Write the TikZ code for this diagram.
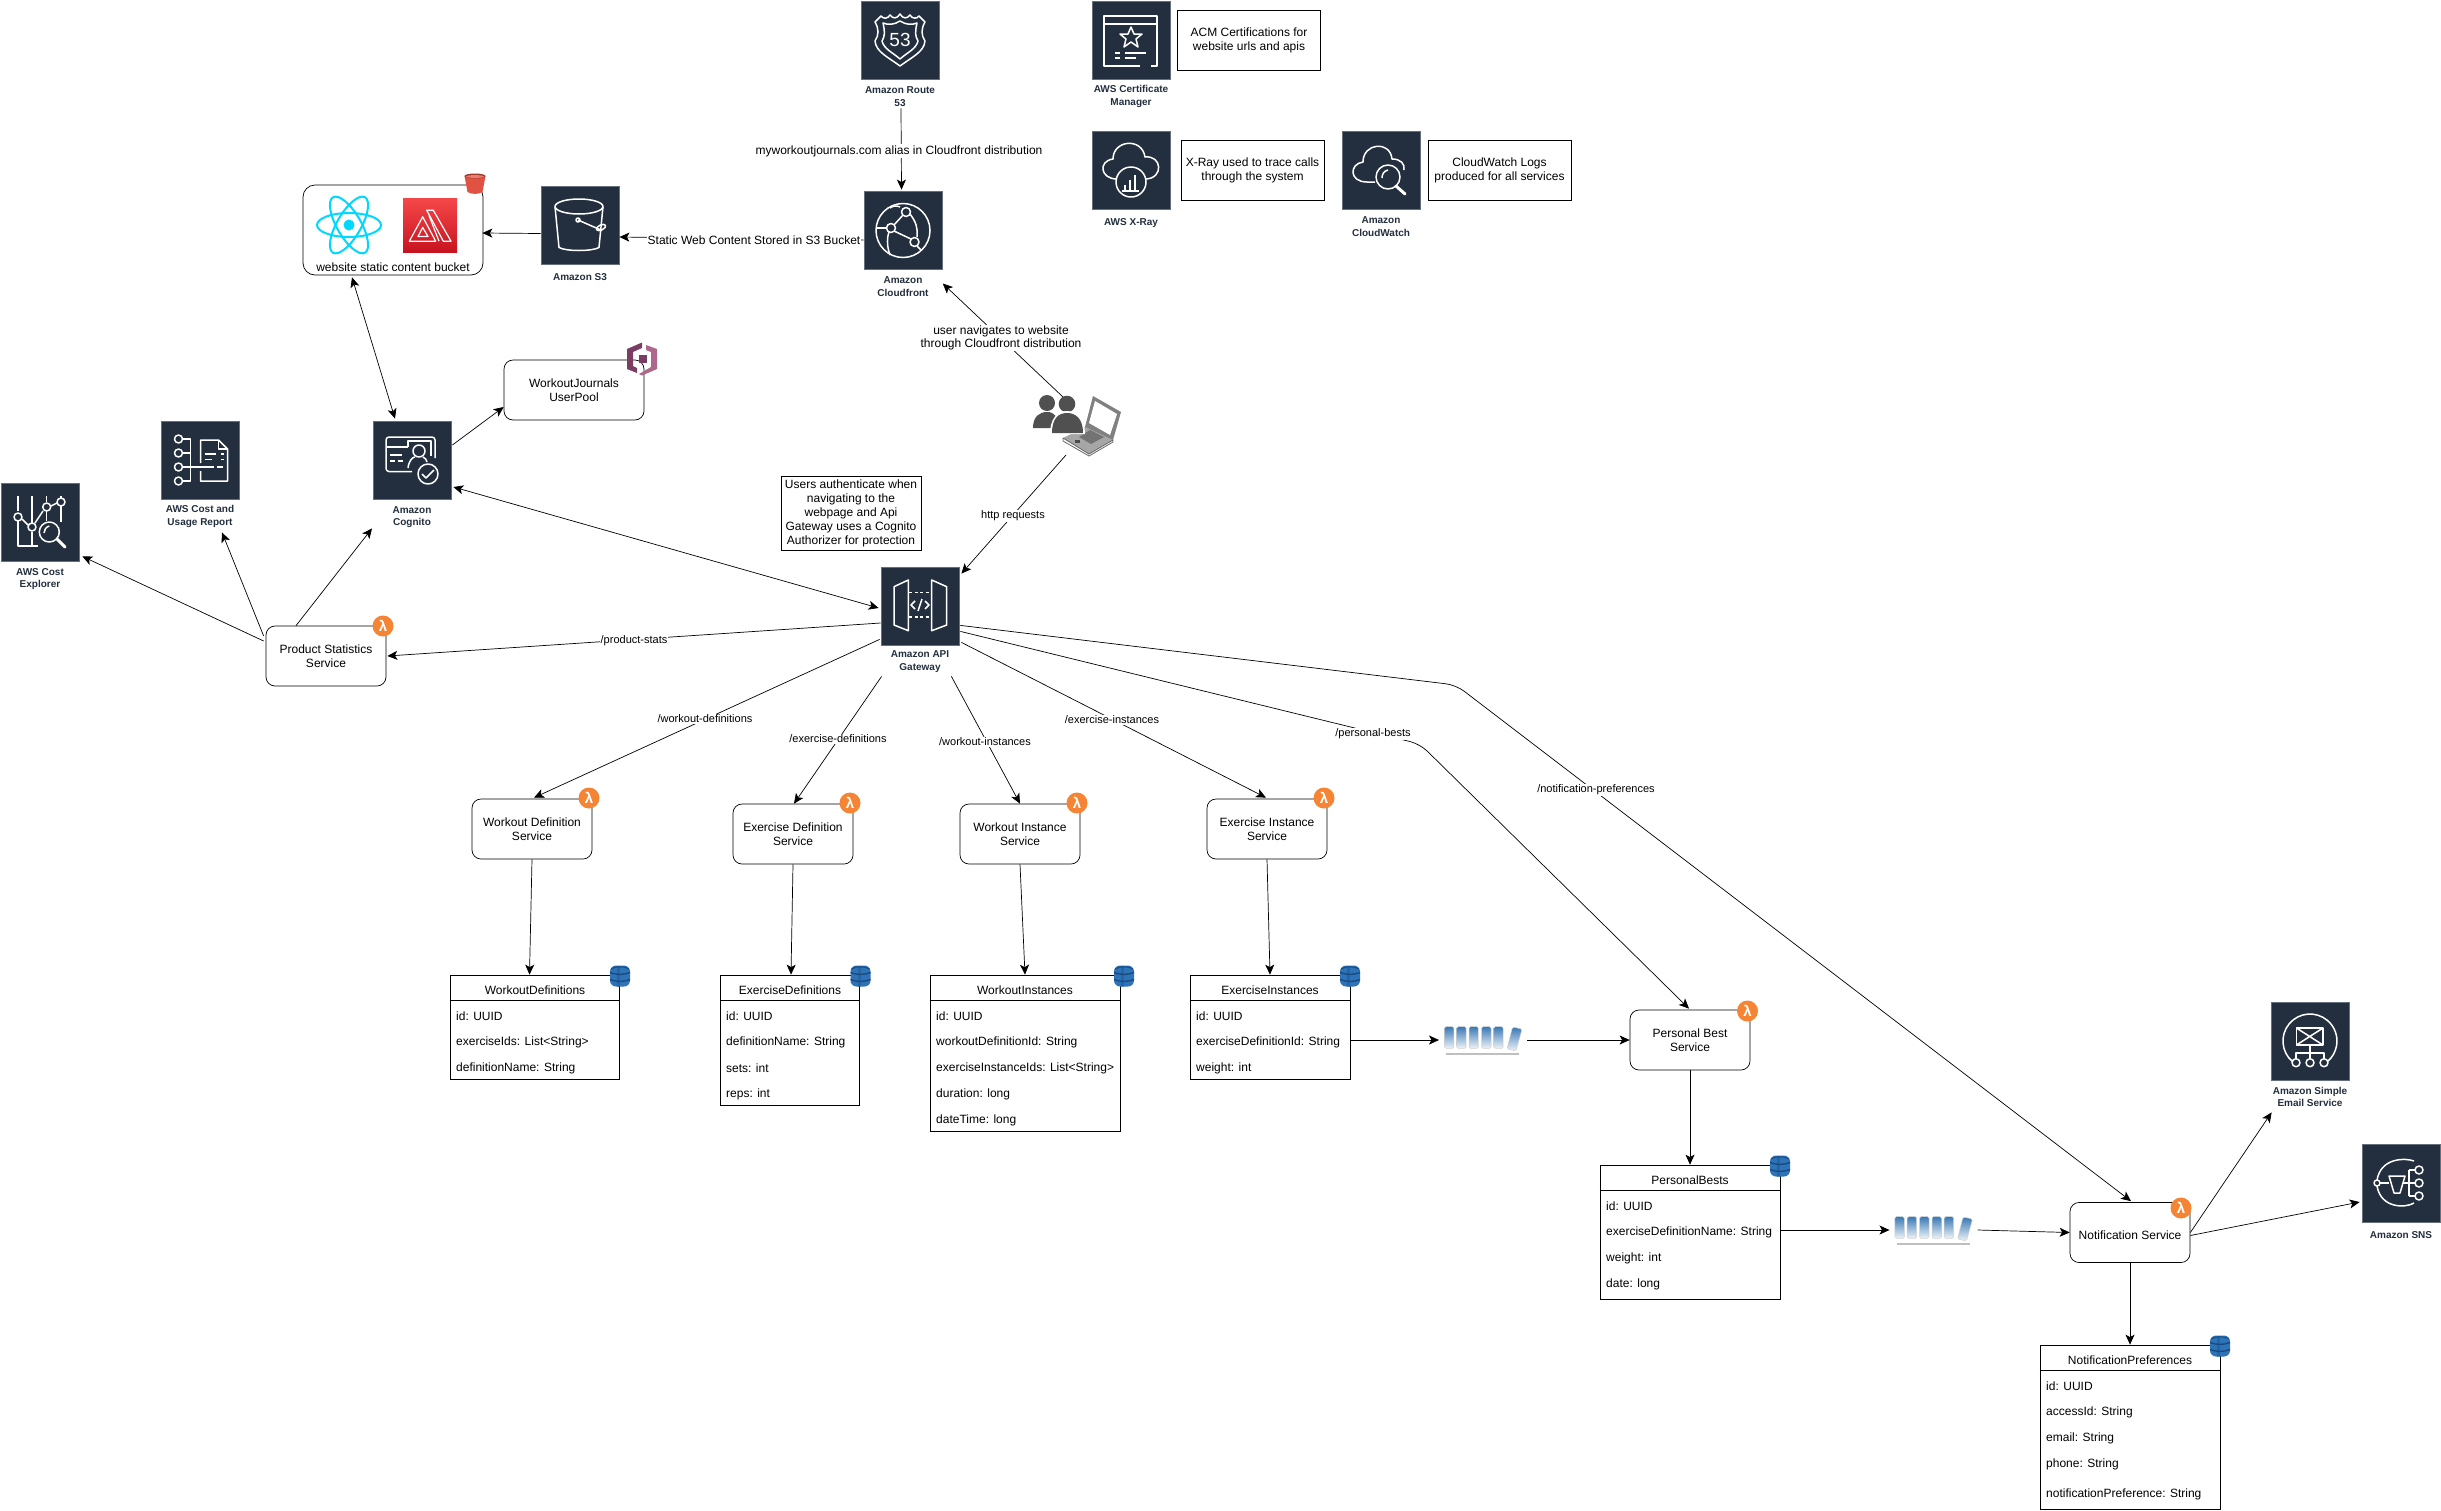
\documentclass[tikz,border=0pt]{standalone}
\usepackage{fontspec}
\setmainfont{Liberation Sans}
\usetikzlibrary{arrows.meta}

\definecolor{awsNavy}{HTML}{232F3E}
\definecolor{iconEdge}{HTML}{66707C}
\definecolor{lambdaOrange}{HTML}{F58534}
\definecolor{dynamoBlue}{HTML}{2E73B8}
\definecolor{dynamoDark}{HTML}{1A4A80}
\definecolor{bucketRed}{HTML}{E05243}
\definecolor{reactCyan}{HTML}{00D8FF}
\definecolor{amplifyTop}{HTML}{F54749}
\definecolor{amplifyBottom}{HTML}{C7131F}
\definecolor{poolDark}{HTML}{7A3E65}
\definecolor{poolLight}{HTML}{AD688B}
\definecolor{queueBlue}{HTML}{3A78B5}
\definecolor{queuePale}{HTML}{EEF3F8}
\definecolor{userGray}{HTML}{505050}

\tikzset{
	awsicon/.style={draw=iconEdge, fill=awsNavy, line width=0.8pt, minimum size=78pt, inner sep=0pt},
	iconlabel/.style={align=center, text=awsNavy, inner sep=1pt, yshift=-1pt, font=\bfseries\fontsize{10}{12.5}\selectfont},
	glyph/.style={draw=white, line width=1.5pt, line join=round},
	svcbox/.style={draw, fill=white, line width=0.7pt, rounded corners=9pt, align=center, inner sep=0pt, minimum width=120pt, minimum height=60pt, font=\fontsize{12}{14}\selectfont, execute at begin node={\rule{0pt}{14.3pt}}},
	notebox/.style={draw, fill=white, line width=0.7pt, align=center, inner sep=0pt, minimum width=143pt, minimum height=60pt, font=\fontsize{12}{14}\selectfont, execute at begin node={\rule{0pt}{14.3pt}}},
	tablebox/.style={draw, fill=white, line width=0.7pt, inner sep=0pt},
	tabletitle/.style={inner sep=0pt, yshift=-1pt, font=\fontsize{12}{14}\selectfont},
	rowtext/.style={anchor=west, inner sep=0pt, yshift=-1pt, font=\fontsize{12}{14}\selectfont},
	edgelabel/.style={fill=white, align=center, inner sep=1pt, yshift=-1pt, font=\fontsize{11}{13.5}\selectfont},
	longlabel/.style={edgelabel, font=\fontsize{12}{13.5}\selectfont},
	lambdabadge/.style={circle, fill=lambdaOrange, text=white, inner sep=0pt, minimum size=21pt, font=\bfseries\fontsize{15}{15}\selectfont},
	hidden/.style={inner sep=0pt, outer sep=0pt},
	conn/.style={line width=0.7pt, -{Stealth[length=10pt,width=9pt,inset=2.5pt]}},
	biconn/.style={line width=0.7pt, {Stealth[length=10pt,width=9pt,inset=2.5pt]}-{Stealth[length=10pt,width=9pt,inset=2.5pt]}},
	route53glyph/.pic={
		\draw[glyph] (0,-26) .. controls (-3,-21) and (-7,-21) .. (-10,-25) .. controls (-12,-21) and (-17,-21) .. (-19,-24) -- (-25,-18) .. controls (-21,-11) and (-21,-5) .. (-25,1) .. controls (-24,12) and (-12,17) .. (0,26) .. controls (12,17) and (24,12) .. (25,1) .. controls (21,-5) and (21,-11) .. (25,-18) -- (19,-24) .. controls (17,-21) and (12,-21) .. (10,-25) .. controls (7,-21) and (3,-21) .. (0,-26) -- cycle;
		\draw[glyph] (0,-19) .. controls (-6,-15) and (-12,-15) .. (-17,-17) .. controls (-15,-8) and (-15,-4) .. (-18,1) .. controls (-16,9) and (-8,12) .. (0,19) .. controls (8,12) and (16,9) .. (18,1) .. controls (15,-4) and (15,-8) .. (17,-17) .. controls (12,-15) and (6,-15) .. (0,-19) -- cycle;
		\node[text=white, inner sep=0pt, font=\fontsize{19}{19}\selectfont] (r53num) at (0,0) {53};
	},
	certglyph/.pic={
		\draw[glyph] (9,26) -- (-27,26) -- (-27,-24) -- (26,-24) -- (26,26) -- (20,26);
		\draw[glyph] (-27,-16) -- (26,-16);
		\draw[glyph] (0,-13) -- (3,-6) -- (11,-6) -- (5,-1) -- (7,7) -- (0,2) -- (-7,7) -- (-5,-1) -- (-11,-6) -- (-3,-6) -- cycle;
		\draw[glyph] (-16,13) -- (-11,13) (-6,13) -- (15,13) (-16,18) -- (-11,18) (-6,18) -- (5,18);
	},
	xrayglyph/.pic={
		\draw[glyph] (-14,9) .. controls (-31,9) and (-33,-9) .. (-18,-11) .. controls (-18,-30) and (11,-33) .. (14,-13) .. controls (31,-15) and (33,8) .. (15,9);
		\draw[glyph] (0,12) circle (15);
		\draw[glyph] (-6,20) -- (-6,15) (-1,20) -- (-1,10) (4,20) -- (4,5);
		\draw[glyph] (-9,21) -- (8,21);
	},
	watchglyph/.pic={
		\draw[glyph] (-6,12) -- (-14,12) .. controls (-32,12) and (-32,-6) .. (-18,-8) .. controls (-18,-27) and (9,-30) .. (11,-11) .. controls (20,-11) and (24,-6) .. (23,0);
		\draw[glyph] (7,7) circle (12);
		\draw[glyph] (7,0) .. controls (3,1) and (1,4) .. (1,8);
		\draw[white, line width=3pt, line cap=round] (15,16) -- (24,24);
	},
	bucketglyph/.pic={
		\draw[glyph] (-1,-19) ellipse (24 and 7.5);
		\draw[glyph] (-25,-19) -- (-21,22) .. controls (-14,26) and (12,26) .. (19,22) -- (23,-19);
		\draw[glyph] (-2,-5.5) circle (2);
		\draw[glyph] (-2,-5.5) -- (22,5);
		\draw[glyph, rotate around={25:(21,2)}] (21,2) ellipse (5 and 2.5);
	},
	frontglyph/.pic={
		\draw[glyph] (0,0.5) circle (27);
		\draw[glyph, fill=awsNavy] (3,-18) circle (4.5);
		\draw[glyph, fill=awsNavy] (-12,-2) circle (4.5);
		\draw[glyph, fill=awsNavy] (11.5,12) circle (4.5);
		\draw[glyph] (0,-15) -- (-9,-5) (-9,1) -- (8,9);
		\draw[glyph] (-26,-2) -- (-16,-2);
		\draw[glyph] (-14,2) .. controls (-17,10) and (-15,20) .. (-13,25);
		\draw[glyph] (-3,-23) .. controls (-7,-25) and (-10,-24) .. (-13,-22);
		\draw[glyph] (7,-16) .. controls (13,-8) and (15,-2) .. (14,7);
		\draw[glyph] (14,16) -- (18,20);
	},
	cognitoglyph/.pic={
		\draw[glyph, rounded corners=3pt] (0,11.5) -- (-26,11.5) -- (-26,-23) -- (23,-23) -- (23,-2);
		\draw[glyph] (-26,-13) -- (-4,-13);
		\draw[glyph] (-22,-5) -- (-10,-5) (-22,1) -- (-17,1) (-14,1) -- (-9,1);
		\draw[glyph] (-4,-13) -- (-4,-19) -- (19,-19) -- (19,-4);
		\draw[glyph] (7,-9) circle (6);
		\draw[glyph] (-4,8) .. controls (-3,0) and (1,-3) .. (3,-3) (11,-3) .. controls (13,-2) and (15,0) .. (15,2);
		\draw[glyph] (16,14) circle (10);
		\draw[glyph] (10,14) -- (14,18) -- (22,10);
	},
	explorerglyph/.pic={
		\draw[glyph] (-22,-26) -- (-22,-11) (-22,-1) -- (-22,24) -- (-2,24);
		\draw[glyph] (-8,-26) -- (-8,1) (-8,10) -- (-8,24);
		\draw[glyph] (6.7,-26) -- (6.7,-20) (6.7,-11) -- (6.7,-1);
		\draw[glyph] (21,-26) -- (21,-24) (21,-16) -- (21,0);
		\draw[glyph] (-22,-5) circle (4) (-8,5) circle (4) (6.7,-15) circle (4) (21,-20) circle (4);
		\draw[glyph] (-18,-3) -- (-12,3) (-5,1) -- (3,-11) (11,-16) -- (17,-19);
		\draw[glyph] (9.3,10) circle (10);
		\draw[glyph] (9.3,4) .. controls (6,5) and (4,8) .. (4,11);
		\draw[white, line width=3pt, line cap=round] (17,17) -- (25,25);
	},
	usageglyph/.pic={
		\draw[glyph] (-22,-21) circle (4) (-22,-7) circle (4) (-22,7) circle (4) (-22,21) circle (4);
		\draw[glyph] (-18,-21) -- (-10,-21) -- (-10,21) -- (-18,21);
		\draw[glyph] (-18,-7) -- (-10,-7);
		\draw[glyph] (-18,7) -- (13,7) (16,7) -- (22,7);
		\draw[glyph] (0,3) -- (0,-20) -- (18,-20) -- (27,-11) -- (27,21) -- (0,21) -- (0,11);
		\draw[glyph] (4,-6) -- (15,-6) (20,-6) -- (23,-6) (4,-0.5) -- (11,-0.5) (20,-0.5) -- (23,-0.5);
		\draw[glyph] (18,-20) -- (18,-11) -- (27,-11);
	},
	gatewayglyph/.pic={
		\draw[glyph] (-26,-19.3) -- (-11.7,-26) -- (-11.7,24.7) -- (-26,19) -- cycle;
		\draw[glyph] (11.7,-26) -- (26.7,-19.3) -- (26.7,19) -- (11.7,24.7) -- cycle;
		\draw[glyph, dash pattern=on 3pt off 2.5pt] (-11,-13.3) -- (11,-13.3) (-11,11) -- (11,11);
		\draw[glyph] (-5,-5) -- (-9,-1) -- (-5,3) (5,-5) -- (9,-1) -- (5,3) (2,-7) -- (-2,5);
	},
	emailglyph/.pic={
		\draw[glyph] (-17.4,20.7) arc[start angle=130, end angle=410, radius=27];
		\draw[glyph] (-13.6,-13) rectangle (13,4);
		\draw[glyph] (-13.6,-13) -- (13,4) (13,-13) -- (-13.6,4);
		\draw[glyph] (0,4) -- (0,17.5) (0,12) -- (-14,12) -- (-14,17.5) (0,12) -- (14,12) -- (14,17.5);
		\draw[glyph] (-14,21.7) circle (4) (0,21.7) circle (4) (14,21.7) circle (4);
	},
	snsglyph/.pic={
		\draw[glyph] (13,-22) .. controls (5,-25) and (-20,-26) .. (-24,-3);
		\draw[glyph] (-24,3) .. controls (-20,26) and (5,25) .. (13,20);
		\draw[glyph] (-24,0) circle (3);
		\draw[glyph] (-21,0) -- (-12,0);
		\draw[glyph] (-12,-7) -- (4,-7) -- (-1,10) -- (-7,10) -- cycle;
		\draw[glyph] (2,0) -- (14,0) (8,-13) -- (8,13) (8,-13) -- (14,-13) (8,13) -- (14,13);
		\draw[glyph] (18,-13) circle (4) (18,0) circle (4) (18,13) circle (4);
	},
	dynamoicon/.pic={
		\fill[dynamoBlue, rounded corners=6pt] (-10,-10.5) rectangle (10,10.5);
		\fill[dynamoDark, opacity=0.35] (0,-10.5) rectangle (-3,10.5);
		\draw[dynamoDark, line width=1.4pt] (-10,-3.5) .. controls (-4,-1) and (4,-1) .. (10,-3.5);
		\draw[dynamoDark, line width=1.4pt] (-10,3.5) .. controls (-4,6) and (4,6) .. (10,3.5);
		\draw[dynamoDark, line width=1pt] (-9,-7) .. controls (-4,-10) and (4,-10) .. (9,-7);
	},
	queuebar/.style={top color=queueBlue, bottom color=queuePale, draw=black!18, line width=0.5pt, rounded corners=1.5pt},
	queueicon/.pic={
		\shadedraw[queuebar] (-38.6,-13.3) rectangle (-29.1,8.3);
		\shadedraw[queuebar] (-26.3,-13.3) rectangle (-16.8,8.3);
		\shadedraw[queuebar] (-14,-13.3) rectangle (-4.5,8.3);
		\shadedraw[queuebar] (-1.5,-13.3) rectangle (8,8.3);
		\shadedraw[queuebar] (10.7,-13.3) rectangle (20.2,8.3);
		\shadedraw[queuebar] (29.5,-13) -- (39,-11) -- (33,11) -- (24,9) -- cycle;
		\draw[black!25, line width=2pt] (-37,14.3) -- (36,14.3);
	},
	s3badge/.pic={
		\fill[bucketRed] (-10.5,-8) -- (10.5,-8) -- (7.5,8) .. controls (4,10.5) and (-4,10.5) .. (-7.5,8) -- cycle;
		\fill[bucketRed!70!black] (0,-8) ellipse (10.5 and 2.5);
		\fill[bucketRed!75!white] (0,-7.5) ellipse (9 and 1.4);
	},
	poolbadge/.pic={
		\fill[poolDark] (-15,-10) -- (0,-16.5) -- (0,-11) -- (-9,-7) -- (-9,7) -- (-5,9) -- (-5,14) -- (-15,10) -- cycle;
		\fill[poolLight] (4,-14) -- (15,-10) -- (15,10) -- (0,16.5) -- (-3,15) -- (9,8) -- (9,-7) -- (4,-9) -- cycle;
		\fill[poolDark] (-3,-4) rectangle (5,4);
	},
	reactlogo/.pic={
		\draw[reactCyan, line width=2pt] (0,0) ellipse (32 and 12);
		\draw[reactCyan, line width=2pt, rotate=60] (0,0) ellipse (32 and 12);
		\draw[reactCyan, line width=2pt, rotate=120] (0,0) ellipse (32 and 12);
		\fill[reactCyan] (0,0) circle (5.5);
	},
	amplifyglyph/.pic={
		\draw[white, line width=1.2pt, line join=round] (-20.7,15.7) -- (-7.3,-8.7) -- (5.7,15.7) -- cycle;
		\draw[white, line width=1.2pt, line join=round] (-12,11) -- (-7.3,2) -- (-2,11) -- cycle;
		\draw[white, line width=1.2pt, line join=round] (-3.3,-15.3) -- (3.3,-15.3) -- (21,15.7) -- (13.3,15.7) -- cycle;
		\draw[white, line width=1.2pt] (-1,-10) -- (9,15.7);
	},
	usersicon/.pic={
		\fill[black!35] (-14,13) -- (12,29) -- (36,15) -- (8,2) -- cycle;
		\draw[black!60, line width=0.8pt, line join=round] (-14,13) -- (-14,16) -- (12,31) -- (36,17) -- (36,15) -- (12,29) -- cycle;
		\fill[black!55] (2,12) -- (14,19) -- (27,12) -- (13,5) -- cycle;
		\fill[black!70] (-2,15) rectangle (3,18);
		\fill[black!50] (16,-29) -- (44,-13) -- (36,15) -- (8,2) -- cycle;
		\fill[white] (18,-24) -- (40,-11) -- (33,10) -- (12,-2) -- cycle;
		\fill[userGray] (-30,-22) circle (8);
		\fill[userGray] (-44,3) .. controls (-44,-8) and (-38,-13) .. (-30,-13) .. controls (-22,-13) and (-19,-8) .. (-19,3) -- cycle;
		\fill[white] (-10,-21) circle (10);
		\fill[userGray] (-10,-21) circle (8.3);
		\fill[white] (-27,9) .. controls (-27,-6) and (-20,-14) .. (-10,-14) .. controls (0,-14) and (8,-6) .. (8,9) -- cycle;
		\fill[userGray] (-25,8) .. controls (-25,-6) and (-19,-12) .. (-10,-12) .. controls (-1,-12) and (6,-6) .. (6,8) -- cycle;
	},
}

\begin{document}
\begin{tikzpicture}[x=1pt, y=-1pt]

	\useasboundingbox (0,0) rectangle (2441,1510);

	\coordinate (bendBest) at (1420,744);
	\coordinate (bendNotify) at (1456,685);

	\node[awsicon] (route53) at (900,40) {};
	\node[awsicon] (cloudfront) at (903,230) {};
	\node[awsicon] (certman) at (1131,40) {};
	\node[awsicon] (xray) at (1131,170) {};
	\node[awsicon] (cloudwatch) at (1381,170) {};
	\node[awsicon] (s3) at (580,225.5) {};
	\node[awsicon] (cognito) at (412,460) {};
	\node[awsicon] (usage) at (200.5,460) {};
	\node[awsicon] (explorer) at (40,522) {};
	\node[awsicon] (gateway) at (920,606) {};
	\node[awsicon] (email) at (2310,1041) {};
	\node[awsicon] (sns) at (2401,1183) {};

	\path (route53) pic {route53glyph};
	\path (cloudfront) pic {frontglyph};
	\path (certman) pic {certglyph};
	\path (xray) pic {xrayglyph};
	\path (cloudwatch) pic {watchglyph};
	\path (s3) pic {bucketglyph};
	\path (cognito) pic {cognitoglyph};
	\path (usage) pic {usageglyph};
	\path (explorer) pic {explorerglyph};
	\path (gateway) pic {gatewayglyph};
	\path (email) pic {emailglyph};
	\path (sns) pic {snsglyph};

	\node[iconlabel] (route53lbl) at (900,95.5) {Amazon Route\\53};
	\node[iconlabel] (cloudfrontlbl) at (903,285.5) {Amazon\\Cloudfront};
	\node[iconlabel] (certmanlbl) at (1131,95.5) {AWS Certificate\\Manager};
	\node[iconlabel] (xraylbl) at (1131,222) {AWS X-Ray};
	\node[iconlabel] (cloudwatchlbl) at (1381,225.5) {Amazon\\CloudWatch};
	\node[iconlabel] (s3lbl) at (580,276) {Amazon S3};
	\node[iconlabel] (cognitolbl) at (412,516) {Amazon\\Cognito};
	\node[iconlabel] (usagelbl) at (200,515.5) {AWS Cost and\\Usage Report};
	\node[iconlabel] (explorerlbl) at (40,578) {AWS Cost\\Explorer};
	\node[iconlabel] (gatewaylbl) at (920,660.5) {Amazon API\\Gateway};
	\node[iconlabel] (emaillbl) at (2310,1096) {Amazon Simple\\Email Service};
	\node[iconlabel] (snslbl) at (2401,1234) {Amazon SNS};

	\node[notebox] (certnote) at (1249,40) {ACM Certifications for\\website urls and apis};
	\node[notebox] (xraynote) at (1252.5,170) {X-Ray used to trace calls\\through the system};
	\node[notebox] (watchnote) at (1499.5,170) {CloudWatch Logs\\produced for all services};
	\node[notebox, minimum width=140pt, minimum height=74pt] (authnote) at (851,513) {Users authenticate when\\navigating to the\\webpage and Api\\Gateway uses a Cognito\\Authorizer for protection};

	\node[svcbox, minimum width=180pt, minimum height=90pt, rounded corners=12pt] (webbox) at (393,230) {};
	\node[hidden, yshift=-1pt, font=\fontsize{12}{14}\selectfont] (webtext) at (393,266) {website static content bucket};
	\path (349,225) pic {reactlogo};
	\node[hidden, minimum size=54pt, top color=amplifyTop, bottom color=amplifyBottom] (amplify) at (430,225.5) {};
	\path (amplify) pic {amplifyglyph};
	\path (475,184) pic {s3badge};

	\node[svcbox, minimum width=140pt] (userpool) at (574,390) {WorkoutJournals\\UserPool};
	\path (642,359) pic {poolbadge};

	\node[hidden, minimum width=88pt, minimum height=60pt] (users) at (1077,425) {};
	\path (users) pic {usersicon};

	\node[svcbox] (prodsvc) at (326,656) {Product Statistics\\Service};
	\node[svcbox] (wdefsvc) at (532,829) {Workout Definition\\Service};
	\node[svcbox] (edefsvc) at (793,834) {Exercise Definition\\Service};
	\node[svcbox] (winstsvc) at (1020,834) {Workout Instance\\Service};
	\node[svcbox] (einstsvc) at (1267,829) {Exercise Instance\\Service};
	\node[svcbox] (bestsvc) at (1690,1040) {Personal Best\\Service};
	\node[svcbox] (notifysvc) at (2130,1232.5) {Notification Service};

	\node[lambdabadge] (lamprod) at (383,626) {λ};
	\node[lambdabadge] (lamwdef) at (589,798) {λ};
	\node[lambdabadge] (lamedef) at (850,803) {λ};
	\node[lambdabadge] (lamwinst) at (1077,803) {λ};
	\node[lambdabadge] (lameinst) at (1324,798) {λ};
	\node[lambdabadge] (lambest) at (1747.5,1011) {λ};
	\node[lambdabadge] (lamnotify) at (2181,1208) {λ};

	\node[tablebox, minimum width=169.5pt, minimum height=104pt] (wdeftable) at (535,1027) {};
	\draw[line width=0.7pt] ([shift={(0,26)}]wdeftable.north west) -- ([shift={(0,26)}]wdeftable.north east);
	\node[tabletitle] (wdeftitle) at (535,989) {WorkoutDefinitions};
	\node[rowtext] (wdefa) at (456,1015) {id: UUID};
	\node[rowtext] (wdefb) at (456,1041) {exerciseIds: List<String>};
	\node[rowtext] (wdefc) at (456,1067) {definitionName: String};
	\path (620,976) pic {dynamoicon};

	\node[tablebox, minimum width=139.5pt, minimum height=130pt] (edeftable) at (790,1040) {};
	\draw[line width=0.7pt] ([shift={(0,26)}]edeftable.north west) -- ([shift={(0,26)}]edeftable.north east);
	\node[tabletitle] (edeftitle) at (790,989) {ExerciseDefinitions};
	\node[rowtext] (edefa) at (726,1015) {id: UUID};
	\node[rowtext] (edefb) at (726,1041) {definitionName: String};
	\node[rowtext] (edefc) at (726,1067) {sets: int};
	\node[rowtext] (edefd) at (726,1093) {reps: int};
	\path (860.5,976) pic {dynamoicon};

	\node[tablebox, minimum width=190pt, minimum height=156pt] (winsttable) at (1025,1053) {};
	\draw[line width=0.7pt] ([shift={(0,26)}]winsttable.north west) -- ([shift={(0,26)}]winsttable.north east);
	\node[tabletitle] (winsttitle) at (1025,989) {WorkoutInstances};
	\node[rowtext] (winsta) at (936,1015) {id: UUID};
	\node[rowtext] (winstb) at (936,1041) {workoutDefinitionId: String};
	\node[rowtext] (winstc) at (936,1067) {exerciseInstanceIds: List<String>};
	\node[rowtext] (winstd) at (936,1093) {duration: long};
	\node[rowtext] (winste) at (936,1119) {dateTime: long};
	\path (1124,976) pic {dynamoicon};

	\node[tablebox, minimum width=160pt, minimum height=104pt] (einsttable) at (1270,1027) {};
	\draw[line width=0.7pt] ([shift={(0,26)}]einsttable.north west) -- ([shift={(0,26)}]einsttable.north east);
	\node[tabletitle] (einsttitle) at (1270,989) {ExerciseInstances};
	\node[rowtext] (einsta) at (1196,1015) {id: UUID};
	\node[rowtext] (einstb) at (1196,1041) {exerciseDefinitionId: String};
	\node[rowtext] (einstc) at (1196,1067) {weight: int};
	\path (1350,976) pic {dynamoicon};

	\node[tablebox, minimum width=180pt, minimum height=134pt] (besttable) at (1690,1232) {};
	\draw[line width=0.7pt] ([shift={(0,26)}]besttable.north west) -- ([shift={(0,26)}]besttable.north east);
	\node[tabletitle] (besttitle) at (1690,1179) {PersonalBests};
	\node[rowtext] (besta) at (1606,1205) {id: UUID};
	\node[rowtext] (bestb) at (1606,1231) {exerciseDefinitionName: String};
	\node[rowtext] (bestc) at (1606,1257) {weight: int};
	\node[rowtext] (bestd) at (1606,1283) {date: long};
	\path (1780,1166) pic {dynamoicon};

	\node[tablebox, minimum width=180pt, minimum height=164pt] (notifytable) at (2130,1427) {};
	\draw[line width=0.7pt] ([shift={(0,26)}]notifytable.north west) -- ([shift={(0,26)}]notifytable.north east);
	\node[tabletitle] (notifytitle) at (2130,1359) {NotificationPreferences};
	\node[rowtext] (notifya) at (2046,1385) {id: UUID};
	\node[rowtext] (notifyb) at (2046,1411) {accessId: String};
	\node[rowtext] (notifyc) at (2046,1437) {email: String};
	\node[rowtext] (notifyd) at (2046,1463) {phone: String};
	\node[rowtext] (notifye) at (2046,1493) {notificationPreference: String};
	\path (2220,1346) pic {dynamoicon};

	\node[hidden, minimum width=88pt, minimum height=30pt] (queuea) at (1483,1040) {};
	\path (queuea) pic {queueicon};
	\node[hidden, minimum width=88pt, minimum height=30pt] (queueb) at (1933.5,1230) {};
	\path (queueb) pic {queueicon};

	\draw[conn] ([shift={(1,1)}]route53lbl.south) -- ([shift={(-1.5,-1)}]cloudfront.north);
	\draw[conn] ([shift={(-14,2)}]users.north) -- ([shift={(13,-3)}]cloudfrontlbl.east);
	\draw[conn] ([shift={(-11,0)}]users.south) -- ([shift={(2,7)}]gateway.north east);
	\draw[conn] ([shift={(0,10)}]cloudfront.west) -- ([shift={(0,11.5)}]s3.east);
	\draw[conn] ([shift={(0,8)}]s3.west) -- ([shift={(-1,3)}]webbox.east);
	\draw[biconn] ([shift={(-41,2)}]webbox.south) -- ([shift={(-17,-2)}]cognito.north);
	\draw[conn] ([shift={(1,-15)}]cognito.east) -- ([shift={(0,17)}]userpool.west);
	\draw[biconn] ([shift={(2,27)}]cognito.east) -- ([shift={(-2,2)}]gateway.west);

	\draw[conn] ([shift={(-2,-15)}]prodsvc.west) -- ([shift={(3,-5)}]explorer.south east);
	\draw[conn] ([shift={(-2,-20)}]prodsvc.west) -- ([shift={(21.5,33)}]usage.south);
	\draw[conn] ([shift={(-30,0)}]prodsvc.north) -- ([shift={(-40,29)}]cognito.south);
	\draw[conn] ([shift={(0,17)}]gateway.west) -- ([shift={(1,0)}]prodsvc.east);

	\draw[conn] ([shift={(-1,-6)}]gateway.south west) -- ([shift={(2,-1)}]wdefsvc.north);
	\draw[conn] ([shift={(1,31)}]gateway.south west) -- ([shift={(1,0)}]edefsvc.north);
	\draw[conn] ([shift={(-8,31)}]gateway.south east) -- (winstsvc.north);
	\draw[conn] ([shift={(2,-3)}]gateway.south east) -- ([shift={(-1,-1)}]einstsvc.north);
	\draw[conn, rounded corners=10pt] ([shift={(1,-14)}]gateway.south east) -- (bendBest) -- ([shift={(-1,-1)}]bestsvc.north);
	\draw[conn, rounded corners=10pt] ([shift={(1,-20)}]gateway.south east) -- (bendNotify) -- ([shift={(1,-1)}]notifysvc.north);

	\draw[conn] (wdefsvc.south) -- ([shift={(-5.5,0)}]wdeftable.north);
	\draw[conn] (edefsvc.south) -- ([shift={(1,0)}]edeftable.north);
	\draw[conn] (winstsvc.south) -- (winsttable.north);
	\draw[conn] (einstsvc.south) -- (einsttable.north);
	\draw[conn] (bestsvc.south) -- (besttable.north);
	\draw[conn] (notifysvc.south) -- (notifytable.north);

	\draw[conn] ([shift={(0,13)}]einsttable.east) -- (queuea.west);
	\draw[conn] (queuea.east) -- (bestsvc.west);
	\draw[conn] ([shift={(0,-2)}]besttable.east) -- (queueb.west);
	\draw[conn] (queueb.east) -- (notifysvc.west);
	\draw[conn] (notifysvc.east) -- ([shift={(1,32)}]email.south west);
	\draw[conn] ([shift={(0,3)}]notifysvc.east) -- ([shift={(-2,19)}]sns.west);

	\node[longlabel] (dnslbl) at (899,150) {myworkoutjournals.com alias in Cloudfront distribution};
	\node[longlabel] (navlbl) at (1001,337) {user navigates to website\\through Cloudfront distribution};
	\node[longlabel] (staticlbl) at (754,239) {Static Web Content Stored in S3 Bucket};
	\node[edgelabel] (httplbl) at (1013,515) {http requests};
	\node[edgelabel] (statslbl) at (634,640) {/product-stats};
	\node[edgelabel] (wdeflbl) at (705,718) {/workout-definitions};
	\node[edgelabel] (edeflbl) at (838,738) {/exercise-definitions};
	\node[edgelabel] (winstlbl) at (985,741) {/workout-instances};
	\node[edgelabel] (einstlbl) at (1112,719) {/exercise-instances};
	\node[edgelabel] (bestlbl) at (1373,733) {/personal-bests};
	\node[edgelabel] (notifylbl) at (1596,789) {/notification-preferences};

\end{tikzpicture}
\end{document}
